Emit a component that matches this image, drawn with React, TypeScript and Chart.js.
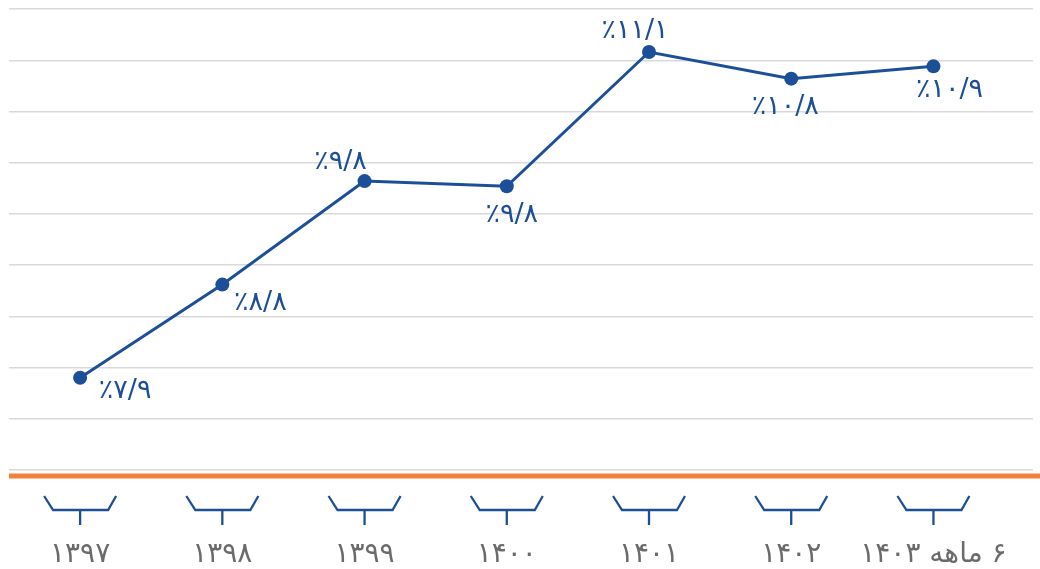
import React, { useEffect, useRef } from 'react';
import { Chart, registerables } from 'chart.js';

Chart.register(...registerables);

// ---- data ----
const CATEGORIES: string[] = ['۱۳۹۷', '۱۳۹۸', '۱۳۹۹', '۱۴۰۰', '۱۴۰۱', '۱۴۰۲', '۶ ماهه ۱۴۰۳'];
const GROWTH: number[] = [7.9, 8.81, 9.82, 9.77, 11.08, 10.82, 10.94];
const Y_MIN = 7;
const Y_MAX = 11.5;
const Y_STEP = 0.5;

// ---- label placement (offset of each value label from its point) ----
const LABEL_OFFSETS: [number, number][] = [
  [45, 13], [38, 18], [-24, -19], [5, 29], [-14, -21], [-6, 28], [16, 24],
];

const BLUE = '#1d4f98';
const ORANGE = '#f4813b';
const GRID = '#d9d9d9';
const FONT = '"DejaVu Sans", "Noto Sans", sans-serif';

const toPersian = (s: string) => s.replace(/\d/g, (d) => '۰۱۲۳۴۵۶۷۸۹'[+d]);
const fmtValue = (v: number) => '٪' + toPersian(v.toFixed(1)).replace('.', '/');

const decorPlugin = {
  id: 'decor',
  afterDatasetsDraw(chart: any) {
    const { ctx, chartArea, scales } = chart;
    ctx.save();
    // orange base bar
    ctx.fillStyle = ORANGE;
    ctx.fillRect(chartArea.left, chartArea.bottom + 3.5, chart.width - chartArea.left, 5);
    // bracket markers under each category
    ctx.strokeStyle = BLUE;
    ctx.lineWidth = 2.3;
    ctx.lineJoin = 'miter';
    const y0 = chartArea.bottom + 26;
    const y1 = chartArea.bottom + 40;
    const y2 = chartArea.bottom + 55;
    CATEGORIES.forEach((_, i) => {
      const x = scales.x.getPixelForValue(i);
      ctx.beginPath();
      ctx.moveTo(x - 36, y0);
      ctx.lineTo(x - 27, y1);
      ctx.lineTo(x + 28, y1);
      ctx.lineTo(x + 36, y0);
      ctx.moveTo(x, y1);
      ctx.lineTo(x, y2);
      ctx.stroke();
    });
    // value labels
    ctx.fillStyle = BLUE;
    ctx.font = `27px ${FONT}`;
    ctx.textAlign = 'center';
    ctx.textBaseline = 'middle';
    const meta = chart.getDatasetMeta(0);
    meta.data.forEach((pt: any, i: number) => {
      const [dx, dy] = LABEL_OFFSETS[i];
      ctx.fillText(fmtValue(GROWTH[i]), pt.x + dx, pt.y + dy);
    });
    ctx.restore();
  },
};

export default function App() {
  const canvasRef = useRef<HTMLCanvasElement | null>(null);

  useEffect(() => {
    if (!canvasRef.current) return;
    const chart = new Chart(canvasRef.current, {
      type: 'line',
      data: {
        datasets: [
          {
            data: GROWTH.map((v, i) => ({ x: i, y: v })),
            borderColor: BLUE,
            backgroundColor: BLUE,
            borderWidth: 3,
            pointRadius: 7,
            pointBorderWidth: 0,
            pointBackgroundColor: BLUE,
            tension: 0,
          },
        ],
      },
      options: {
        animation: false,
        responsive: true,
        maintainAspectRatio: false,
        layout: { padding: { left: 9, right: 1, top: 9, bottom: 0 } },
        plugins: { legend: { display: false }, tooltip: { enabled: false } },
        scales: {
          x: {
            type: 'linear',
            min: -0.5,
            max: 6.7,
            grid: { display: false, drawTicks: false },
            border: { display: false },
            afterBuildTicks: (scale: any) => {
              scale.ticks = CATEGORIES.map((_, i) => ({ value: i }));
            },
            afterFit: (scale: any) => {
              scale.height = 99;
              scale.paddingLeft = 0;
              scale.paddingRight = 0;
            },
            ticks: {
              autoSkip: false,
              maxRotation: 0,
              padding: 68,
              color: '#6b6b6b',
              font: { family: FONT, size: 28 },
              callback: (v: any) => CATEGORIES[v as number] ?? '',
            },
          },
          y: {
            min: Y_MIN,
            max: Y_MAX,
            ticks: { display: false, stepSize: Y_STEP },
            grid: { color: GRID, lineWidth: 1.4, drawTicks: false },
            border: { display: false },
          },
        },
      },
      plugins: [decorPlugin],
    });
    return () => chart.destroy();
  }, []);

  return (
    <div
      dir="rtl"
      style={{ position: 'absolute', left: 0, top: 0, width: 1040, height: 569, direction: 'rtl' }}
    >
      <canvas ref={canvasRef} dir="rtl" />
    </div>
  );
}
